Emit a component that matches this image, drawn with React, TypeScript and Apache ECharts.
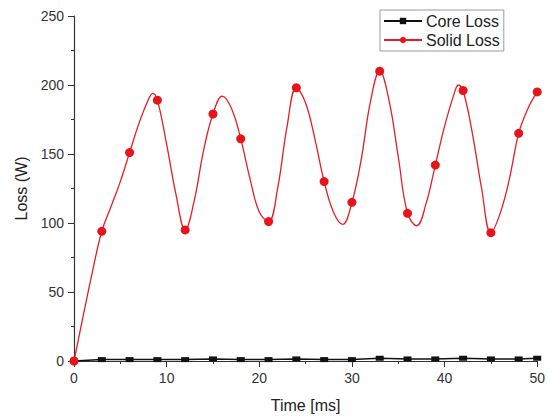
import React, { useEffect, useRef } from "react";
import * as echarts from "echarts";

const xTicks = [0, 10, 20, 30, 40, 50];
const yTicks = [0, 50, 100, 150, 200, 250];

const coreTime = [0, 3, 6, 9, 12, 15, 18, 21, 24, 27, 30, 33, 36, 39, 42, 45, 48, 50];
const coreLoss = [0, 1, 1, 1, 1, 1.5, 1, 1, 1.5, 1, 1, 2, 1.5, 1.5, 2, 1.5, 1.5, 2];

const solidTime = [0, 1, 2, 3, 4, 5, 6, 7, 8, 8.5, 9, 10, 11, 12, 13, 14, 15, 16, 17, 18, 19, 20, 21, 22, 23, 24, 25, 26, 27, 28, 29, 30, 31, 32, 33, 34, 35, 36, 37, 38, 39, 40, 41, 41.5, 42, 43, 44, 45, 46, 47, 48, 49, 50];
const solidLoss = [0, 33, 65, 94, 112, 130, 151, 172, 189, 194, 189, 157, 121, 95, 117, 153, 179, 192, 183, 161, 132, 108, 101, 126, 170, 198, 187, 161, 130, 108, 99, 115, 146, 188, 210, 189, 148, 107, 98, 114, 142, 170, 193, 200, 196, 165, 125, 93, 107, 132, 165, 183, 195];
const markerTimes = [0, 3, 6, 9, 12, 15, 18, 21, 24, 27, 30, 33, 36, 39, 42, 45, 48, 50];

export default function App() {
  const ref = useRef<HTMLDivElement>(null);
  useEffect(() => {
    if (!ref.current) return;
    const chart = echarts.init(ref.current, undefined, { renderer: "svg" });
    const font = "Liberation Sans, Arial, sans-serif";
    const solidData = solidTime.map((t, i) =>
      markerTimes.includes(t)
        ? { value: [t, solidLoss[i]] }
        : { value: [t, solidLoss[i]], symbol: "none" }
    );
    chart.setOption({
      animation: false,
      backgroundColor: "#ffffff",
      textStyle: { fontFamily: font },
      grid: { left: 74, right: 8, top: 16, bottom: 58 },
      legend: {
        orient: "vertical",
        left: 380,
        top: 10,
        itemWidth: 38,
        itemHeight: 8,
        itemGap: 3,
        padding: [3, 4, 3, 3],
        borderColor: "#999",
        borderWidth: 1,
        textStyle: { fontSize: 16, color: "#222", fontFamily: font, padding: [0, 0, 0, -1] },
        data: ["Core Loss", "Solid Loss"],
      },
      xAxis: {
        type: "value",
        min: xTicks[0],
        max: xTicks[xTicks.length - 1],
        interval: 10,
        name: "Time [ms]",
        nameLocation: "middle",
        nameGap: 36,
        nameTextStyle: { fontSize: 16, color: "#222", fontFamily: font },
        axisLine: { onZero: false, lineStyle: { color: "#333", width: 1.2 } },
        axisTick: { length: 6, lineStyle: { color: "#333" } },
        minorTick: { show: true, splitNumber: 2, length: 3, lineStyle: { color: "#333" } },
        axisLabel: { fontSize: 14, color: "#333", margin: 10, fontFamily: font },
        splitLine: { show: false },
      },
      yAxis: {
        type: "value",
        min: yTicks[0],
        max: yTicks[yTicks.length - 1],
        interval: 50,
        name: "Loss (W)",
        nameLocation: "middle",
        nameGap: 42,
        nameRotate: 90,
        nameTextStyle: { fontSize: 16, color: "#222", fontFamily: font },
        axisLine: { show: true, lineStyle: { color: "#333", width: 1.2 } },
        axisTick: { show: true, length: 6, lineStyle: { color: "#333" } },
        minorTick: { show: true, splitNumber: 2, length: 3, lineStyle: { color: "#333" } },
        axisLabel: { fontSize: 14, color: "#333", margin: 10, fontFamily: font },
        splitLine: { show: false },
      },
      series: [
        {
          name: "Core Loss",
          type: "line",
          data: coreTime.map((t, i) => [t, coreLoss[i]]),
          symbol: "rect",
          symbolSize: [8, 5],
          lineStyle: { color: "#111", width: 1.5 },
          itemStyle: { color: "#111" },
          color: "#111",
          z: 2,
        },
        {
          name: "Solid Loss",
          type: "line",
          data: solidData,
          smooth: 0.4,
          symbol: "circle",
          symbolSize: 9,
          lineStyle: { color: "#e41e26", width: 1.3 },
          itemStyle: { color: "#e8141c" },
          color: "#e8141c",
          z: 3,
        },
      ],
    });
    return () => chart.dispose();
  }, []);
  return <div ref={ref} style={{ width: 548, height: 419, position: "absolute", left: 0, top: 0 }} />;
}
